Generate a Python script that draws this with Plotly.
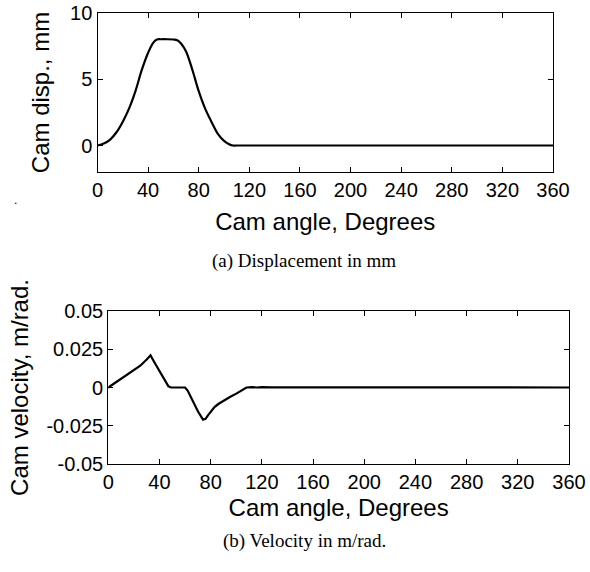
import plotly.graph_objects as go

# ---- data ----
disp_angle = [0, 5, 10, 15, 20, 25, 30, 35, 40, 44, 47, 50, 55, 60, 63, 66, 70, 75, 80, 85, 90, 95, 100, 104, 107, 110, 360]
disp_mm = [0, 0.15, 0.45, 1.0, 1.8, 2.8, 4.1, 5.7, 7.0, 7.75, 8.0, 8.02, 8.02, 8.0, 7.95, 7.7, 7.1, 5.7, 4.1, 2.8, 1.8, 0.9, 0.35, 0.1, 0.0, 0.0, 0.0]

vel_angle = [0, 5, 10, 15, 20, 25, 30, 33, 36, 40, 44, 47, 49, 55, 60, 62, 66, 70, 74, 76, 78, 80, 83, 86, 90, 95, 100, 105, 108, 112, 116, 120, 124, 128, 360]
vel_mrad = [0, 0.0028, 0.0055, 0.0082, 0.011, 0.0142, 0.0183, 0.021, 0.0165, 0.0105, 0.0045, 0.0008, 0, 0.0002, 0, -0.002, -0.009, -0.0155, -0.021, -0.0205, -0.018, -0.0158, -0.0128, -0.0108, -0.0086, -0.0062, -0.004, -0.0017, 0, 0.0003, 0, 0.0002, 0, 0.0001, 0]

x_ticks = [0, 40, 80, 120, 160, 200, 240, 280, 320, 360]
disp_ticks = [0, 5, 10]
vel_ticks = [-0.05, -0.025, 0, 0.025, 0.05]
vel_tick_text = ["-0.05", "-0.025", "0", "0.025", "0.05"]

W, H = 590, 572
SANS = "Liberation Sans, Arial, sans-serif"
SERIF = "Liberation Serif, Times New Roman, serif"

def fx(p):
    return p / W

def fy(p):
    return 1 - p / H

fig = go.Figure()
fig.add_trace(go.Scatter(x=disp_angle, y=disp_mm, mode="lines", line=dict(color="black", width=2.2),
                         xaxis="x", yaxis="y", showlegend=False, line_shape="spline"))
fig.add_trace(go.Scatter(x=vel_angle, y=vel_mrad, mode="lines", line=dict(color="black", width=2.2),
                         xaxis="x2", yaxis="y2", showlegend=False))

axis_common = dict(showline=True, linecolor="black", linewidth=1.3, mirror="ticks", ticks="inside",
                   ticklen=5, tickwidth=1, tickcolor="black", showgrid=False, zeroline=False,
                   tickfont=dict(family=SANS, size=20, color="black"), automargin=False,
                   ticklabeloverflow="allow")
title_font = dict(family=SANS, size=24, color="black")

fig.update_layout(
    width=W, height=H, margin=dict(l=0, r=0, t=0, b=0),
    paper_bgcolor="white", plot_bgcolor="white",
    xaxis=dict(domain=[fx(97.5), fx(553)], range=[0, 360], tickvals=x_ticks, anchor="y",
               title=dict(text="Cam angle, Degrees", font=title_font, standoff=13),
               **axis_common),
    yaxis=dict(domain=[fy(172), fy(13)], range=[-2, 10], tickvals=disp_ticks, anchor="x",
               title=dict(text="Cam disp., mm", font=title_font, standoff=13),
               **axis_common),
    xaxis2=dict(domain=[fx(108.3), fx(569)], range=[0, 360], tickvals=x_ticks, anchor="y2",
                title=dict(text="Cam angle, Degrees", font=title_font, standoff=7),
                **axis_common),
    yaxis2=dict(domain=[fy(464), fy(311)], range=[-0.05, 0.05], tickvals=vel_ticks,
                ticktext=vel_tick_text, anchor="x2",
                title=dict(text="Cam velocity, m/rad.", font=title_font, standoff=11),
                **axis_common),
)

fig.add_annotation(text="(a) Displacement in mm", x=fx(304), y=fy(261), xref="paper", yref="paper",
                   showarrow=False, font=dict(family=SERIF, size=19, color="black"), xanchor="center", yanchor="middle")
fig.add_annotation(text="(b) Velocity in m/rad.", x=fx(304), y=fy(541), xref="paper", yref="paper",
                   showarrow=False, font=dict(family=SERIF, size=19, color="black"), xanchor="center", yanchor="middle")
fig.add_annotation(text=".", x=fx(15), y=fy(200), xref="paper", yref="paper",
                   showarrow=False, font=dict(family=SANS, size=12, color="black"), xanchor="center", yanchor="middle")

fig.write_html("out.html", config={"displayModeBar": False},
               post_script="document.body.style.margin='0';document.body.style.overflow='hidden';")
